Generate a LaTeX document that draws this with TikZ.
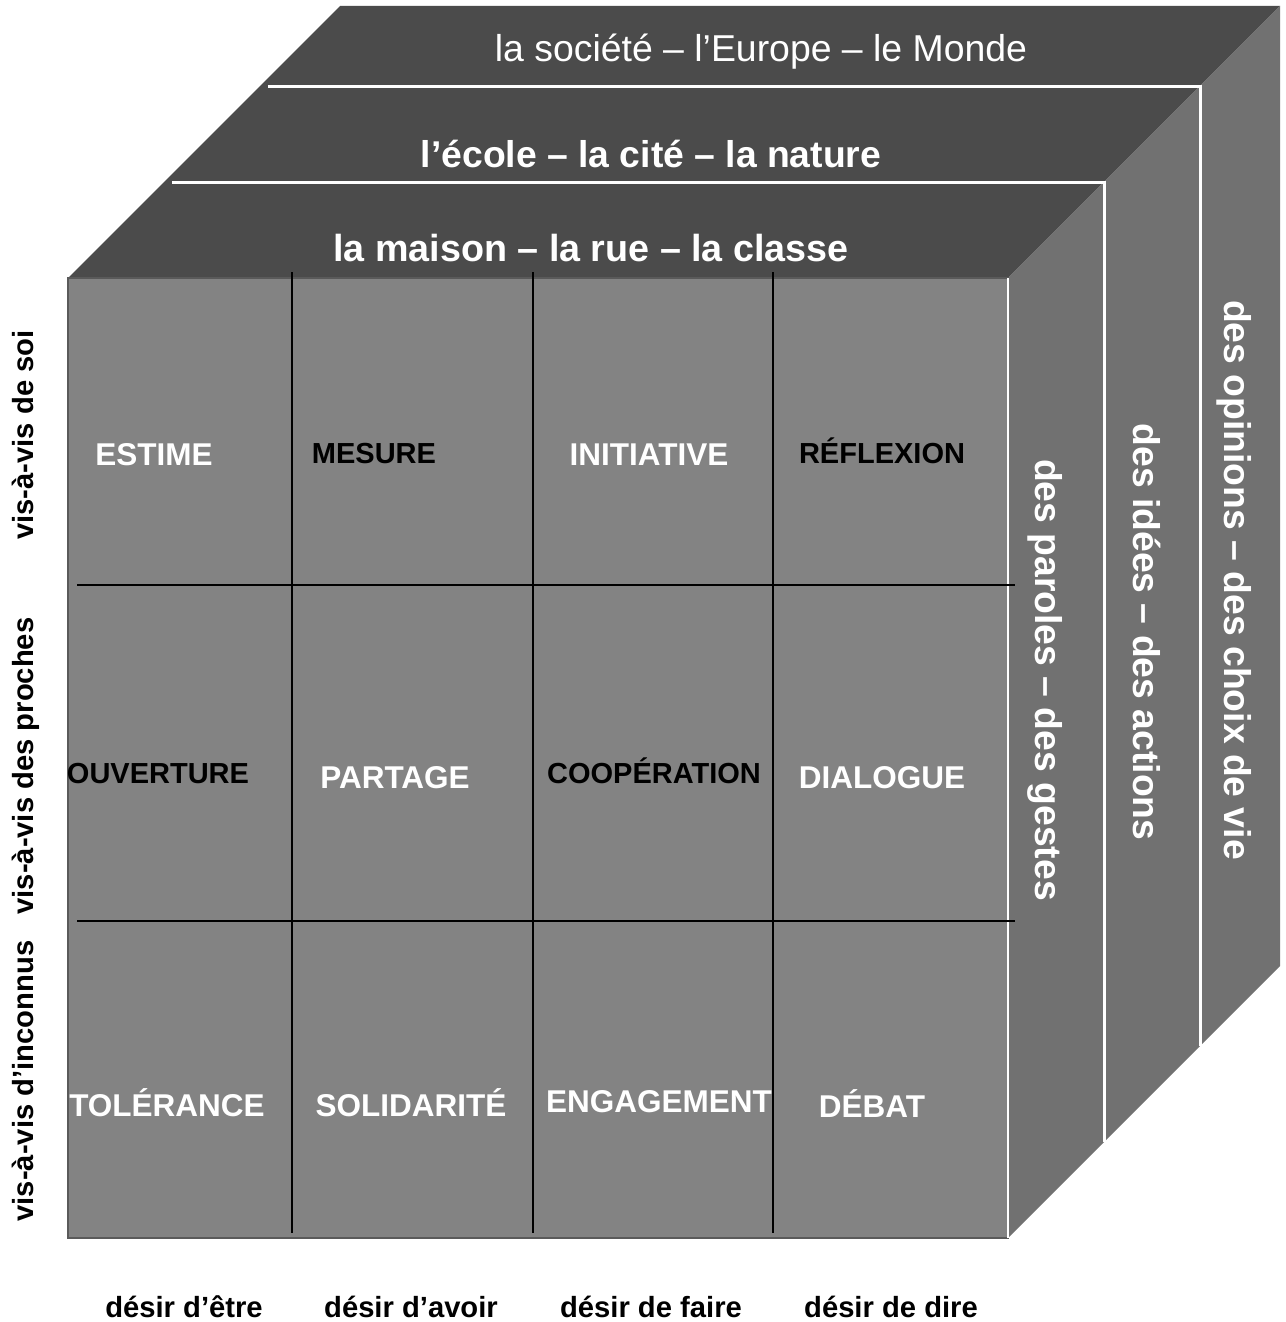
\documentclass[tikz,border=0pt]{standalone}
\usepackage{fontspec}
\setmainfont{Liberation Sans}
\usetikzlibrary{calc}

\definecolor{topgray}{HTML}{4B4B4B}
\definecolor{frontgray}{HTML}{838383}
\definecolor{sidegray}{HTML}{717171}
\definecolor{edgegray}{HTML}{5A5A5A}

\tikzset{
  cellwhite/.style={font=\fontsize{31.5}{36}\selectfont\bfseries, text=white, inner sep=0pt, anchor=base},
  cellblack/.style={font=\fontsize{29}{34}\selectfont\bfseries, text=black, inner sep=0pt, anchor=base},
  axislabel/.style={font=\fontsize{29.2}{34}\selectfont\bfseries, inner sep=0pt, anchor=base},
  facelabel/.style={font=\fontsize{37.3}{42}\selectfont\bfseries, text=white, inner sep=0pt, anchor=base},
}

\begin{document}
\begin{tikzpicture}[x=1pt, y=-1pt]
  \useasboundingbox (0,0) rectangle (1285,1322);
  % front face corners and depth of the cube
  \coordinate (ul) at (68, 278);
  \coordinate (ur) at (1008, 278);
  \coordinate (lr) at (1008, 1238);
  \coordinate (ll) at (68, 1238);
  \coordinate (depth) at (272, -272);

  \fill[topgray] (ul) -- (ur) -- ($ (ur) + (depth) $) -- ($ (ul) + (depth) $) -- cycle;
  \fill[sidegray] (ur) -- (lr) -- ($ (lr) + (depth) $) -- ($ (ur) + (depth) $) -- cycle;
  \draw[edgegray, fill=frontgray, line width=1.5pt] (ll) rectangle (ur);
  \draw[white, line width=2.5pt] (ur) -- (lr);

  % the two layers behind the front
  \foreach \d in {96, 192}
    \draw[white, line width=3pt]
      ($ (ul) + ({\d+8}, -\d) $) -- ($ (ur) + (\d, -\d) $) -- ($ (lr) + (\d, -\d) $);

  % grid of the front face
  \foreach \x in {292, 533, 773}
    \draw[line width=2pt] (\x, 272) -- (\x, 1233);
  \foreach \y in {585, 921}
    \draw[line width=2pt] (77, \y) -- (1015, \y);

  \node[cellwhite] (estime) at (154, 465) {ESTIME};
  \node[cellblack] (mesure) at (374, 463) {MESURE};
  \node[cellwhite] (initiative) at (649, 465) {INITIATIVE};
  \node[cellblack] (reflexion) at (882, 463) {RÉFLEXION};
  \node[cellblack] (ouverture) at (158, 783) {OUVERTURE};
  \node[cellwhite] (partage) at (395, 788) {PARTAGE};
  \node[cellblack] (cooperation) at (654, 783) {COOPÉRATION};
  \node[cellwhite] (dialogue) at (882, 788) {DIALOGUE};
  \node[cellwhite] (tolerance) at (167, 1116) {TOLÉRANCE};
  \node[cellwhite] (solidarite) at (411, 1116) {SOLIDARITÉ};
  \node[cellwhite] (engagement) at (659, 1112) {ENGAGEMENT};
  \node[cellwhite] (debat) at (872, 1117) {DÉBAT};

  % top and side of the cube
  \node[facelabel, font=\fontsize{37.4}{42}\selectfont] (monde) at (761, 62) {la société – l’Europe – le Monde};
  \node[facelabel] (ecole) at (651, 167) {l’école – la cité – la nature};
  \node[facelabel, font=\fontsize{37.7}{43}\selectfont\bfseries] (maison) at (591, 261) {la maison – la rue – la classe};
  \node[facelabel, rotate=-90] (paroles) at (1035, 680) {des paroles – des gestes};
  \node[facelabel, rotate=-90] (idees) at (1133, 632) {des idées – des actions};
  \node[facelabel, rotate=-90] (opinions) at (1224, 580) {des opinions – des choix de vie};

  % axes
  \node[axislabel, rotate=90] (soi) at (33, 435) {vis-à-vis de soi};
  \node[axislabel, rotate=90] (proches) at (33, 766) {vis-à-vis des proches};
  \node[axislabel, rotate=90] (inconnus) at (33, 1081) {vis-à-vis d’inconnus};
  \node[axislabel] (etre) at (184, 1317) {désir d’être};
  \node[axislabel] (avoir) at (411, 1317) {désir d’avoir};
  \node[axislabel] (faire) at (651, 1317) {désir de faire};
  \node[axislabel] (dire) at (891, 1317) {désir de dire};
\end{tikzpicture}
\end{document}
